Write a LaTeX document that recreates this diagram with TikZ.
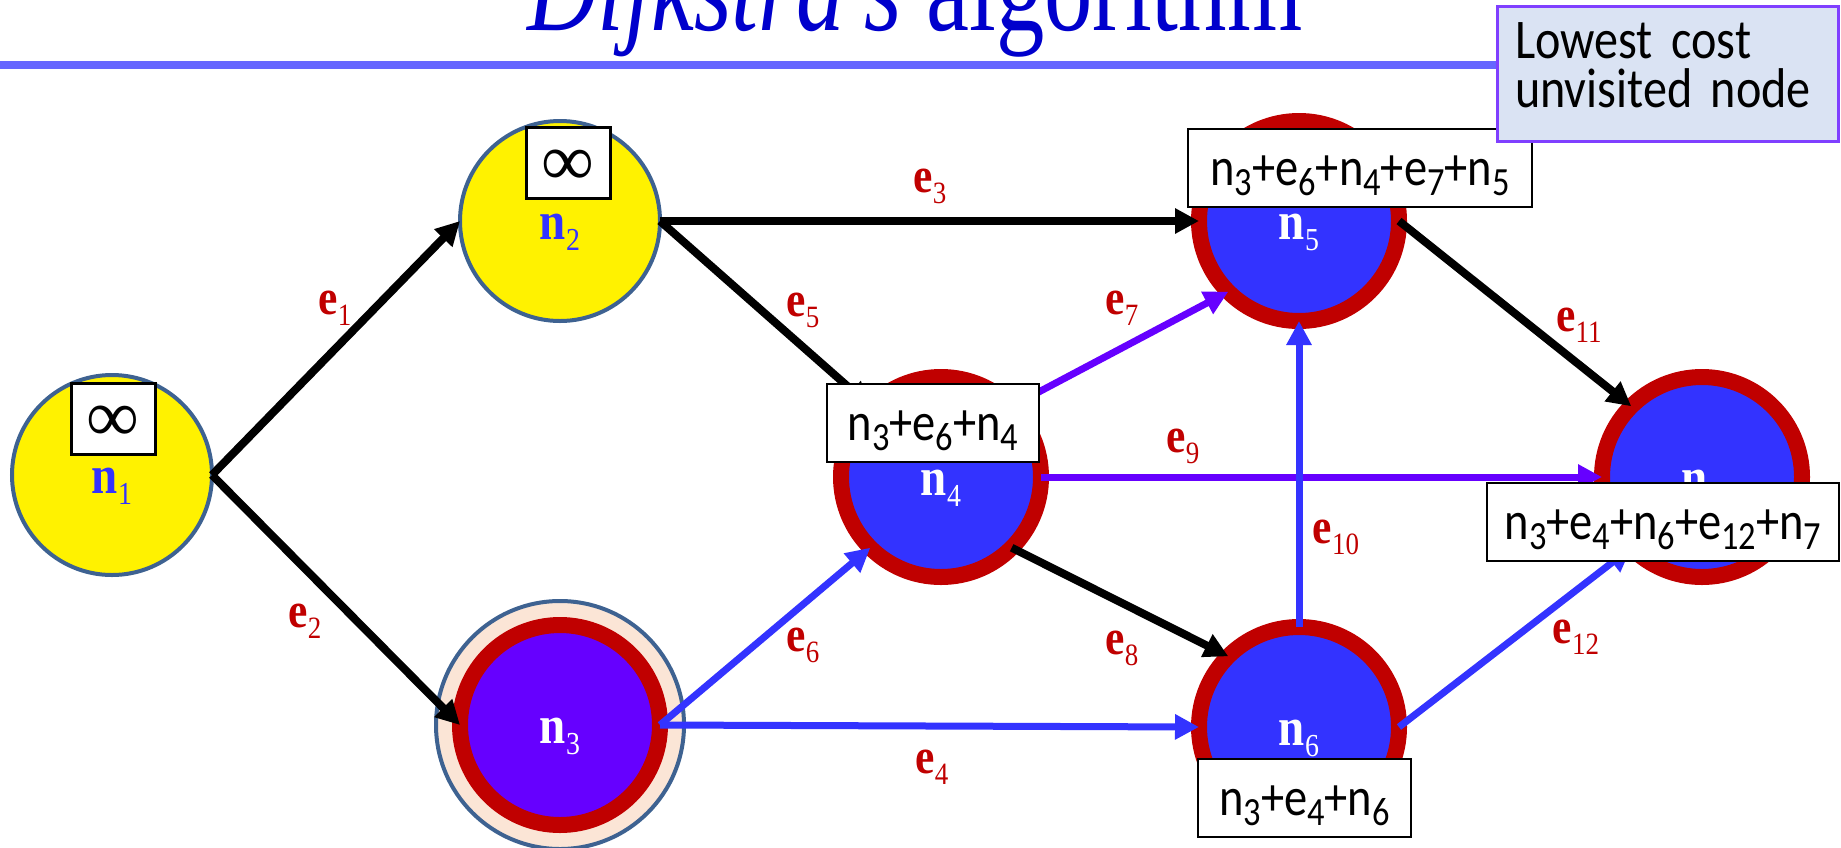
\documentclass[tikz,border=0pt]{standalone}
\usepackage{fontspec}
\setmainfont{Liberation Serif}
\newfontfamily\titlefont{Liberation Serif}[FakeStretch=0.78]
\newfontfamily\labfont{Liberation Serif}[FakeStretch=0.87]
\newfontfamily\boxfont{Carlito}[FakeStretch=0.86]
\usetikzlibrary{arrows.meta}
\definecolor{nblue}{RGB}{51,51,255}
\definecolor{npurple}{RGB}{102,0,255}
\definecolor{nred}{RGB}{192,0,0}
\definecolor{steel}{RGB}{62,98,145}
\definecolor{cream}{RGB}{251,229,214}
\definecolor{titleblue}{RGB}{0,0,204}
\definecolor{rulecol}{RGB}{102,102,255}
\definecolor{lcfill}{RGB}{218,227,243}
\definecolor{lcborder}{RGB}{127,63,255}
\newcommand\nodelab[1]{{\bfseries\fontsize{54}{54}\selectfont n}\raisebox{-11pt}{\fontsize{32}{32}\selectfont #1}}
\newcommand\edgelab[1]{{\bfseries\fontsize{50}{50}\selectfont e}\raisebox{-11pt}{\fontsize{31}{31}\selectfont #1}}
\newcommand\csub[1]{\raisebox{-10pt}{\fontsize{40}{40}\selectfont #1}}
\tikzset{
  vnode/.style={circle, inner sep=0pt, outer sep=0pt, minimum size=200pt},
  unvis/.style={vnode, fill=yellow, draw=steel, line width=4pt},
  visited/.style={vnode, fill=nblue, draw=nred, line width=16pt},
  current/.style={vnode, fill=npurple, draw=nred, line width=16pt},
  halo/.style={circle, inner sep=0pt, minimum size=248pt, fill=cream, draw=steel, line width=4pt},
  nlabel/.style={font=\labfont, anchor=base, inner sep=0pt, yshift=-18pt},
  elabel/.style={font=\labfont, text=nred, inner sep=0pt},
  edge/.style={line width=8pt, -{Triangle[length=24pt,width=24pt]}},
  blackedge/.style={edge, draw=black},
  blueedge/.style={edge, line width=7pt, draw=nblue},
  purpleedge/.style={edge, line width=7pt, draw=npurple},
  infbox/.style={draw=black, fill=white, line width=3pt, minimum width=84pt, minimum height=71pt, inner sep=0pt, text height=46pt, text depth=0pt, font=\fontsize{74}{74}\selectfont},
  costbox/.style={draw=black, fill=white, line width=2.5pt, minimum height=78pt, inner sep=0pt, text height=44pt, text depth=10pt, font=\boxfont\fontsize{54}{54}\selectfont},
}
\begin{document}
\begin{tikzpicture}[x=1pt,y=-1pt]
\useasboundingbox (0,0) rectangle (1841,847);
\clip (0,0) rectangle (1841,847);
% title and rule
\node[font=\titlefont\fontsize{124}{124}\selectfont, text=titleblue, anchor=base, inner sep=0pt] (title) at (915,30) {\textit{Dijkstra’s} algorithm};
\fill[rulecol] (0,61) rectangle (1500,69);
% nodes
\node[halo] (n3halo) at (560,725) {};
\node[unvis] (n1) at (112,475) {};
\node[unvis] (n2) at (560,221) {};
\node[current] (n3) at (560,725) {};
\node[visited] (n4) at (941,477) {};
\node[visited] (n5) at (1299,221) {};
\node[visited] (n6) at (1299,727) {};
\node[visited] (n7) at (1702,477) {};
% node labels
\node[nlabel, text=nblue] (l1) at (n1) {\nodelab{1}};
\node[nlabel, text=nblue] (l2) at (n2) {\nodelab{2}};
\node[nlabel, text=white] (l3) at (n3) {\nodelab{3}};
\node[nlabel, text=white] (l4) at (n4) {\nodelab{4}};
\node[nlabel, text=white] (l5) at (n5) {\nodelab{5}};
\node[nlabel, text=white] (l6) at (n6) {\nodelab{6}};
\node[nlabel, text=white] (l7) at (n7) {\nodelab{7}};
% edges
\draw[blackedge] (n1.east) -- (n2.west);
\draw[blackedge] (n1.east) -- (n3.west);
\draw[blackedge] (n2.east) -- (n5.west);
\draw[blackedge] (n2.east) -- (n4.north west);
\draw[blueedge] (n3.east) -- (n4.south west);
\draw[blueedge] (n3.east) -- (n6.west);
\draw[purpleedge] (n4.north east) -- (n5.south west);
\draw[purpleedge] (n4.east) -- (n7.west);
\draw[blackedge] (n4.south east) -- (n6.north west);
\draw[blueedge] (n6.north) -- (n5.south);
\draw[blackedge] (n5.east) -- (n7.north west);
\draw[blueedge] (n6.east) -- (n7.south west);
% edge labels
\node[elabel] (le1) at (335,308) {\edgelab{1}};
\node[elabel] (le2) at (305,621) {\edgelab{2}};
\node[elabel] (le3) at (930,186) {\edgelab{3}};
\node[elabel] (le4) at (932,767) {\edgelab{4}};
\node[elabel] (le5) at (803,310) {\edgelab{5}};
\node[elabel] (le6) at (803,645) {\edgelab{6}};
\node[elabel] (le7) at (1122,308) {\edgelab{7}};
\node[elabel] (le8) at (1122,648) {\edgelab{8}};
\node[elabel] (le9) at (1183,446) {\edgelab{9}};
\node[elabel] (le10) at (1336,537) {\edgelab{10}};
\node[elabel] (le11) at (1579,325) {\edgelab{11}};
\node[elabel] (le12) at (1576,637) {\edgelab{12}};
% infinity boxes
\node[infbox] (inf1) at (113,418.5) {∞};
\node[infbox] (inf2) at (568,162.5) {∞};
% cost boxes
\node[costbox, minimum width=212pt] (c4) at (933,423) {n\csub{3}+e\csub{6}+n\csub{4}};
\node[costbox, minimum width=344pt] (c5) at (1360,168) {n\csub{3}+e\csub{6}+n\csub{4}+e\csub{7}+n\csub{5}};
\node[costbox, minimum width=213pt] (c6) at (1304.5,798) {n\csub{3}+e\csub{4}+n\csub{6}};
\node[costbox, minimum width=352pt] (c7) at (1663,522) {n\csub{3}+e\csub{4}+n\csub{6}+e\csub{12}+n\csub{7}};
% lowest cost note
\node[draw=lcborder, fill=lcfill, line width=3pt, minimum width=341pt, minimum height=135pt, inner xsep=18pt, inner ysep=0pt, text width=305pt, align=left, text height=30pt, text depth=61pt, font=\boxfont\fontsize{56}{49}\selectfont] (lc) at (1667.5,73.5) {Lowest cost\\unvisited node};
\end{tikzpicture}
\end{document}
